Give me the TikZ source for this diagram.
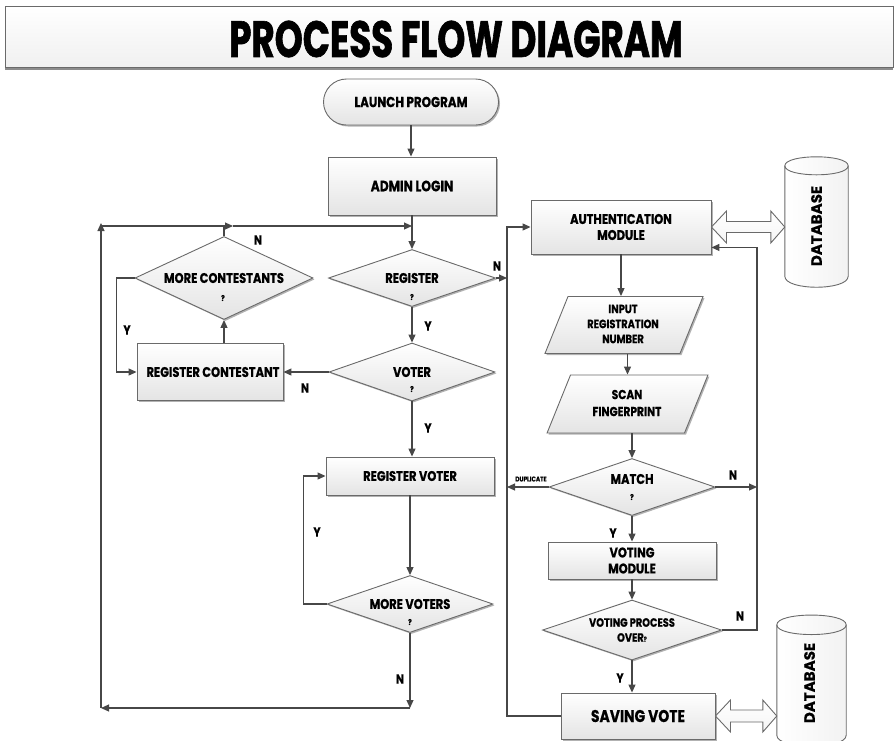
\documentclass[tikz,border=0pt]{standalone}
\usepackage{fontspec}
\setmainfont{Poppins}
\newfontfamily\nodefont{Poppins}[FakeStretch=0.82, FakeBold=0.6]
\newfontfamily\titlefont{Poppins}[FakeStretch=0.7, FakeBold=1.2]
\newfontfamily\dbfont{Poppins}[FakeBold=0.4]
\usetikzlibrary{shapes.geometric, arrows.meta, shadows, calc}

\definecolor{linec}{HTML}{474747}
\definecolor{edgec}{HTML}{6A6A6A}
\definecolor{fillb}{HTML}{E4E4E4}

\tikzset{
  base/.style={draw=edgec, line width=0.9pt, top color=white, bottom color=fillb,
    drop shadow={shadow xshift=1.5pt, shadow yshift=-1.5pt, opacity=0.3, fill=black},
    inner sep=0pt, align=center},
  process/.style={base, rectangle},
  terminal/.style={base, rectangle, rounded corners=23pt},
  decision/.style={base, diamond},
  io/.style={base, trapezium, trapezium left angle=68, trapezium right angle=112},
  flow/.style={draw=linec, line width=1.1pt, -{Triangle[length=8pt,width=7pt]}},
  link/.style={draw=linec, line width=1.1pt},
  txt/.style={inner sep=0pt, align=center, font=\nodefont\bfseries\fontsize{14}{16}\selectfont},
  lab/.style={inner sep=0pt, font=\nodefont\bfseries\fontsize{13}{14}\selectfont},
  qm/.style={inner sep=0pt, font=\nodefont\bfseries\fontsize{8}{9}\selectfont},
  dbl/.style={draw=edgec, line width=0.9pt, top color=white, bottom color=gray!8},
  dbshape/.style={draw=edgec, line width=0.9pt, left color=white, right color=gray!10},
}
% empty box that fixes the inner size of a parallelogram
\newcommand\iobox[2]{\rule{0pt}{#2}\rule{#1}{0pt}}

\begin{document}
\begin{tikzpicture}[x=1pt,y=-1pt]
\useasboundingbox (0,0) rectangle (895,740);

% title banner
\node[draw=edgec, line width=0.9pt, top color=white, bottom color=gray!12,
  drop shadow={shadow xshift=0pt, shadow yshift=-2pt, opacity=0.45, fill=black},
  minimum width=888pt, minimum height=61pt, inner sep=0pt] (title) at (449,37) {};
\node[inner sep=0pt, font=\titlefont\bfseries\fontsize{51}{56}\selectfont] (titlet) at (456,39) {PROCESS FLOW DIAGRAM};

% left column
\node[terminal, minimum width=175pt, minimum height=46pt] (launch) at (411,102) {};
\node[txt, font=\nodefont\bfseries\fontsize{14.5}{16}\selectfont] (launcht) at (launch.center) {LAUNCH PROGRAM};
\node[process, minimum width=168pt, minimum height=58pt] (admin) at (412,186) {};
\node[txt, font=\nodefont\bfseries\fontsize{15}{17}\selectfont] (admint) at (admin.center) {ADMIN LOGIN};

\node[decision, minimum width=167pt, minimum height=57pt] (reg) at (412,278) {};
\node[txt] (regt) at (412,278) {REGISTER};
\node[qm] (regq) at (412,297) {?};

\node[decision, minimum width=178pt, minimum height=83pt] (mc) at (224,278) {};
\node[txt] (mct) at (224,278) {MORE CONTESTANTS};
\node[qm] (mcq) at (223,298) {?};

\node[process, minimum width=146pt, minimum height=57pt] (rc) at (210,372) {};
\node[txt] (rct) at (213,372) {REGISTER CONTESTANT};

\node[decision, minimum width=166pt, minimum height=58pt] (voter) at (412,372) {};
\node[txt] (votert) at (412,372) {VOTER};
\node[qm] (voterq) at (412,389) {?};

\node[process, minimum width=168pt, minimum height=38pt] (rv) at (410,476) {};
\node[txt] (rvt) at (rv.center) {REGISTER VOTER};

\node[decision, minimum width=166pt, minimum height=57pt] (mv) at (410,604) {};
\node[txt] (mvt) at (410,604) {MORE VOTERS};
\node[qm] (mvq) at (410,622) {?};

% right column
\node[process, minimum width=180pt, minimum height=54pt] (auth) at (621,227) {};
\node[txt] (autht) at (auth.center) {AUTHENTICATION\\MODULE};

\node[io] (input) at (624,325) {\iobox{112pt}{57pt}};
\node[txt, font=\nodefont\bfseries\fontsize{12}{15}\selectfont] (inputt) at (623,324) {INPUT\\REGISTRATION\\NUMBER};

\node[io] (scan) at (627.5,404) {\iobox{114pt}{58pt}};
\node[txt, font=\nodefont\bfseries\fontsize{13}{17}\selectfont] (scant) at (627,403) {SCAN\\FINGERPRINT};

\node[decision, minimum width=166pt, minimum height=57pt] (match) at (632,487) {};
\node[txt] (matcht) at (632,479) {MATCH};
\node[qm] (matchq) at (632,497) {?};

\node[process, minimum width=168pt, minimum height=37pt] (vm) at (632,560.5) {};
\node[txt] (vmt) at (vm.center) {VOTING\\MODULE};

\node[decision, minimum width=179pt, minimum height=60pt] (vpo) at (632,630) {};
\node[txt, font=\nodefont\bfseries\fontsize{12}{15}\selectfont] (vpot) at (632,630) {VOTING PROCESS\\OVER{\fontsize{7}{8}\selectfont?}};

\node[process, minimum width=154pt, minimum height=46pt] (sv) at (638,716) {};
\node[txt, font=\nodefont\bfseries\fontsize{17}{19}\selectfont] (svt) at (sv.center) {SAVING VOTE};

% databases
\node[minimum width=63pt, minimum height=110pt, inner sep=0pt] (db1) at (816.5,221) {};
\path[dbshape] (db1.north west) -- (db1.south west)
  .. controls +(0,14.7) and +(0,14.7) .. (db1.south east) -- (db1.north east)
  .. controls +(0,-12) and +(0,-12) .. (db1.north west) -- cycle;
\draw[draw=edgec, line width=0.9pt] (db1.north west) .. controls +(0,12) and +(0,12) .. (db1.north east);
\node[rotate=90, inner sep=0pt, font=\dbfont\bfseries\fontsize{15}{16}\selectfont] (db1t) at ([yshift=-5pt]db1.center) {DATABASE};

\node[minimum width=69pt, minimum height=110pt, inner sep=0pt] (db2) at (811.5,680) {};
\path[dbshape] (db2.north west) -- (db2.south west)
  .. controls +(0,14.7) and +(0,14.7) .. (db2.south east) -- (db2.north east)
  .. controls +(0,-13) and +(0,-13) .. (db2.north west) -- cycle;
\draw[draw=edgec, line width=0.9pt] (db2.north west) .. controls +(0,13) and +(0,13) .. (db2.north east);
\node[rotate=90, inner sep=0pt, font=\dbfont\bfseries\fontsize{15}{16}\selectfont] (db2t) at ([yshift=-3pt, xshift=-2pt]db2.center) {DATABASE};

% hollow two-way arrows to the databases
\draw[dbl] let \p1=(auth.east), \p2=(db1.west) in
  (\x1,\y1) -- (\x1+15pt,\y1+16pt) -- (\x1+15pt,\y1+5.5pt) -- (\x2-14pt,\y1+5.5pt)
  -- (\x2-14pt,\y1+16pt) -- (\x2,\y1) -- (\x2-14pt,\y1-16pt) -- (\x2-14pt,\y1-5.5pt)
  -- (\x1+15pt,\y1-5.5pt) -- (\x1+15pt,\y1-16pt) -- cycle;
\draw[dbl] let \p1=(sv.east), \p2=(db2.west) in
  (\x1,\y1) -- (\x1+15pt,\y1+16pt) -- (\x1+15pt,\y1+6pt) -- (\x2-14pt,\y1+6pt)
  -- (\x2-14pt,\y1+16pt) -- (\x2,\y1) -- (\x2-14pt,\y1-16pt) -- (\x2-14pt,\y1-6pt)
  -- (\x1+15pt,\y1-6pt) -- (\x1+15pt,\y1-16pt) -- cycle;

% helper coordinates for the routed lines
\coordinate (ytop) at (0,226);
\coordinate (ybot) at (0,708);
\coordinate (tl) at (101,226);
\coordinate (bl) at (101,708);
\coordinate (lx) at (507,0);
\coordinate (rx) at (757,0);
\coordinate (jm) at (mc.north |- ytop);
\coordinate (jr) at (reg.north |- ytop);
\coordinate (authN) at ([yshift=7pt]auth.south east);

% left column flow
\draw[flow] (launch.south) -- (launch.south |- admin.north);
\draw[flow] (admin.south -| reg.north) -- (reg.north);
\draw[flow] (reg.south) -- (voter.north);
\draw[flow] (voter.west) -- (voter.west -| rc.east);
\draw[flow] (mc.south |- rc.north) -- (mc.south);
\draw[link] (mc.north) -- (jm);
\draw[flow] (mc.west) -- ++(-18,0) |- (rc.west);
\draw[flow] (voter.south) -- (voter.south |- rv.north);
\draw[flow] (rv.south) -- (mv.north);
\draw[flow] (mv.west) -- ++(-23,0) |- (rv.west);
\draw[flow] (mv.south) -- (mv.south |- ybot);
\draw[flow] (mv.south |- ybot) -- (bl);
\draw[flow] (bl) -- ([yshift=3pt]tl);
\draw[flow] (tl) -- ([xshift=9pt]jm);
\draw[flow] ([xshift=9pt]jm) -- (jr);
\draw[flow] (reg.east) -- (lx |- reg.east);

% right column flow
\draw[flow] (sv.west) -- (lx |- sv.west) -- (lx |- auth.west) -- (auth.west);
\draw[flow] (auth.south) -- (auth.south |- input.north);
\draw[flow] (input.south -| scan.north) -- (scan.north);
\draw[flow] (scan.south -| match.north) -- (match.north);
\draw[flow] (match.west) -- (lx |- match.west);
\draw[flow] (match.east) -- (rx |- match.east);
\draw[flow] (match.south) -- (vm.north);
\draw[flow] (vm.south) -- (vpo.north);
\draw[flow] (vpo.east) -- (rx |- vpo.east) -- (rx |- authN) -- (authN);
\draw[flow] (vpo.south) -- (vpo.south |- sv.north);

% branch labels
\node[lab] (n1) at (258,240) {N};
\node[lab] (n2) at (497,266) {N};
\node[lab] (y1) at (428,326) {Y};
\node[lab] (n3) at (305,388) {N};
\node[lab] (y2) at (127,330) {Y};
\node[lab] (y3) at (428,428) {Y};
\node[lab] (y4) at (317,532) {Y};
\node[lab] (n4) at (400,679) {N};
\node[inner sep=0pt, font=\nodefont\bfseries\fontsize{7}{8}\selectfont] (dup) at (531,479) {DUPLICATE};
\node[lab] (n5) at (733,475) {N};
\node[lab] (y5) at (613,533) {Y};
\node[lab] (n6) at (740,616) {N};
\node[lab] (y6) at (620,678) {Y};
\end{tikzpicture}
\end{document}
